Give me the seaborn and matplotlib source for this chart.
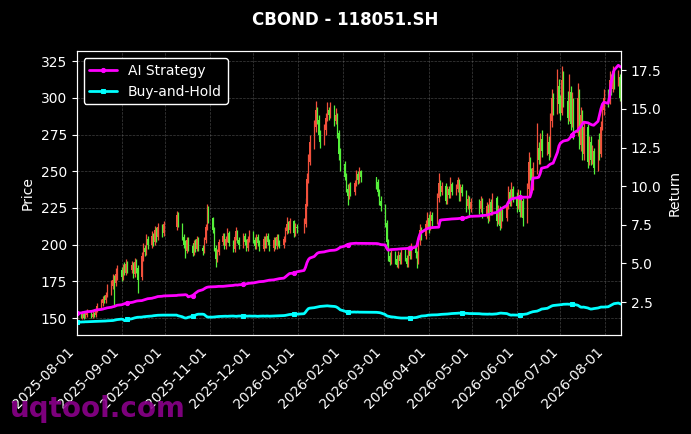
import pandas as pd
import numpy as np
import matplotlib
matplotlib.use('Agg')
import matplotlib.pyplot as plt
import matplotlib.dates as mdates
import seaborn as sns

# exchange holidays inside the window (no trading)
holidays = ['2025-10-01', '2025-10-02', '2025-10-03', '2025-10-06', '2025-10-07', '2025-10-08',
            '2026-01-01', '2026-01-02',
            '2026-02-16', '2026-02-17', '2026-02-18', '2026-02-19', '2026-02-20', '2026-02-23',
            '2026-04-06', '2026-05-01', '2026-05-04', '2026-05-05', '2026-06-19']

opens = [
    150,153,151,153,151,152,154,151,153,152,155,158,160,164,162,166,170,172,177,174,180,  # 2025-08
    183,178,185,181,187,183,186,180,188,184,178,192,198,195,204,200,206,202,210,205,212,208,  # 09
    212,221,214,205,200,196,203,199,194,201,197,204,198,196,203,212,224,  # 10
    218,210,198,190,195,202,206,199,204,208,201,197,205,209,203,200,206,202,198,204,  # 11
    207,203,199,205,201,197,204,200,206,202,198,203,199,205,201,200,204,209,214,210,216,208,212,  # 12
    211,214,228,245,256,268,280,292,285,275,270,278,286,292,288,294,284,288,276,262,  # 2026-01
    255,246,238,233,240,236,242,248,244,250,246,243,236,230,  # 02
    226,215,202,192,188,194,190,186,193,189,195,191,187,196,192,198,194,189,203,210,206,214,  # 03
    218,212,220,216,232,242,236,240,230,238,234,241,236,238,244,232,239,235,226,231,224,  # 04
    229,224,230,220,226,218,229,222,232,216,224,213,221,218,226,236,228,238,  # 05
    232,226,234,222,230,218,238,256,248,240,252,266,258,272,264,270,262,284,300,292,308,  # 06
    296,290,312,298,286,304,282,296,276,300,268,288,262,280,256,270,258,264,252,268,262,280,292,  # 07
    300,298,312,306,318,310,314,300,  # 08
]
highs = [
    154,154,155,154,154,156,155,155,154,157,160,163,165,166,168,173,176,180,179,184,186,
    185,187,188,190,189,189,188,191,190,186,195,201,200,207,206,209,208,213,212,215,214,216,
    223,222,215,207,203,205,205,201,203,204,206,205,200,205,214,228,226,
    219,212,200,197,204,208,208,206,211,209,203,207,212,210,205,208,208,204,206,210,
    209,205,207,207,203,206,206,208,208,204,205,205,207,207,203,206,212,219,216,218,217,215,214,
    218,232,249,262,275,285,298,294,288,278,282,290,297,294,297,295,293,290,278,266,
    257,249,241,242,243,244,251,250,253,251,246,245,238,233,
    228,217,204,195,197,196,193,196,195,198,197,193,199,198,201,200,196,206,214,212,217,222,
    221,223,222,235,249,244,243,242,240,240,246,243,241,246,245,241,241,237,234,233,232,
    231,233,232,229,228,232,231,235,233,227,226,224,224,229,240,238,243,240,
    236,238,237,233,232,242,263,260,252,256,283,270,276,278,276,274,290,306,303,320,313,
    302,322,318,305,316,308,304,300,310,306,294,292,284,282,274,274,268,266,272,276,284,296,306,
    306,318,316,322,320,319,316,310,
]
lows = [
    149,150,149,149,150,151,150,150,151,151,154,156,158,160,160,164,166,170,159,172,176,
    175,176,179,179,181,181,177,178,181,167,176,189,192,193,197,198,199,200,202,203,205,206,
    210,212,203,198,191,194,196,192,193,195,196,196,193,194,201,210,215,
    208,196,185,188,193,200,197,197,202,199,195,195,203,201,197,198,200,196,196,202,
    201,197,197,199,196,196,198,198,200,196,196,197,197,199,198,198,202,207,208,208,205,206,208,
    208,212,226,242,254,265,277,282,272,266,268,275,284,285,286,281,282,273,258,250,
    244,236,227,231,233,234,240,241,242,243,238,233,227,223,
    212,199,189,186,187,187,185,184,187,187,189,185,185,190,190,191,184,187,200,203,204,211,
    208,210,213,214,229,233,234,228,228,232,232,234,234,236,230,230,233,222,224,220,222,
    221,222,218,218,215,216,220,220,213,214,210,211,216,216,224,226,226,229,
    222,224,219,219,213,215,234,244,236,237,248,255,255,260,261,258,260,280,288,289,290,
    285,288,294,282,284,278,280,272,274,265,264,258,258,252,254,254,255,248,250,258,260,278,288,
    294,296,302,304,306,308,298,296,
]
closes = [
    152,151,153,150,152,154,151,153,152,155,158,160,163,162,166,170,172,176,174,180,183,
    178,184,181,187,183,186,180,188,184,176,192,198,195,204,200,206,202,210,205,212,208,214,
    220,214,205,200,196,203,199,194,201,197,204,198,196,203,212,224,218,
    210,198,190,195,202,206,199,204,208,201,197,205,209,203,200,206,202,198,204,207,
    203,199,205,201,197,204,200,206,202,198,203,199,205,201,200,204,209,214,210,216,208,212,211,
    214,228,245,258,270,280,292,285,275,270,278,286,292,288,294,284,288,276,262,255,
    246,238,233,240,236,242,248,244,250,246,243,236,230,226,
    215,202,192,188,194,190,186,193,189,195,191,187,196,192,198,194,189,203,210,206,214,218,
    212,220,216,232,242,236,240,230,238,234,241,236,238,244,232,239,235,226,231,224,229,
    224,230,220,226,218,229,222,232,216,224,213,221,218,226,236,228,238,232,
    226,234,222,230,218,238,256,248,240,252,266,258,272,264,270,262,284,300,292,308,296,
    290,312,298,286,304,282,296,276,300,268,288,262,280,256,270,258,264,252,268,262,280,292,300,
    298,312,306,318,310,314,300,304,
]

ai_strategy = [
    1.79,1.80,1.82,1.84,1.86,1.88,1.90,1.92,1.95,1.98,2.00,2.03,2.05,2.08,2.10,2.13,2.17,2.20,2.22,2.26,2.30,
    2.33,2.36,2.40,2.42,2.45,2.48,2.50,2.53,2.56,2.58,2.60,2.63,2.66,2.69,2.72,2.75,2.78,2.80,2.83,2.86,2.88,2.90,
    2.93,2.95,2.96,2.97,2.98,2.96,2.84,2.92,3.00,3.08,3.15,3.22,3.30,3.36,3.42,3.46,3.48,
    3.49,3.50,3.50,3.51,3.52,3.52,3.53,3.54,3.55,3.56,3.58,3.60,3.61,3.60,3.62,3.64,3.66,3.68,3.70,3.72,
    3.74,3.76,3.78,3.80,3.82,3.84,3.86,3.88,3.90,3.92,3.94,3.96,3.98,4.00,4.02,4.05,4.12,4.20,4.28,4.35,4.38,4.42,4.46,
    4.55,4.75,5.05,5.25,5.35,5.45,5.55,5.65,5.70,5.72,5.75,5.78,5.80,5.82,5.84,5.86,5.88,5.92,5.98,6.05,
    6.12,6.18,6.22,6.25,6.28,6.30,6.31,6.30,6.30,6.30,6.29,6.28,6.25,6.22,
    6.20,6.00,5.86,5.88,5.90,5.91,5.92,5.93,5.94,5.95,5.96,5.97,5.98,5.99,6.00,6.05,6.18,6.60,6.90,7.02,7.20,7.25,
    7.28,7.30,7.32,7.34,7.35,7.80,7.82,7.84,7.85,7.86,7.87,7.88,7.89,7.90,7.91,7.92,7.93,7.96,8.00,8.03,8.05,
    8.07,8.09,8.10,8.12,8.15,8.18,8.20,8.25,8.30,8.38,8.45,8.52,8.58,8.75,8.95,9.09,9.15,9.20,
    9.25,9.28,9.29,9.29,9.29,9.29,9.29,9.30,9.60,10.52,10.55,10.58,10.80,11.16,11.25,11.35,11.42,11.46,11.49,12.20,12.60,
    12.78,12.85,12.92,12.98,13.05,13.17,13.30,13.45,13.60,13.75,13.85,14.00,14.14,14.10,14.05,14.00,13.96,13.94,14.20,14.60,15.00,15.30,15.43,
    15.36,15.80,16.66,17.10,17.50,17.82,17.75,17.69,
]
buy_and_hold = [
    1.21,1.21,1.22,1.22,1.23,1.23,1.24,1.24,1.25,1.25,1.26,1.26,1.27,1.27,1.28,1.29,1.30,1.31,1.33,1.35,1.37,
    1.40,1.38,1.30,1.33,1.38,1.42,1.45,1.48,1.50,1.52,1.53,1.55,1.56,1.57,1.58,1.60,1.62,1.63,1.64,1.65,1.66,1.66,
    1.66,1.62,1.55,1.50,1.47,1.48,1.52,1.58,1.62,1.66,1.70,1.72,1.72,1.70,1.62,1.55,1.53,
    1.53,1.54,1.55,1.56,1.57,1.58,1.59,1.59,1.58,1.59,1.60,1.59,1.58,1.59,1.60,1.59,1.59,1.60,1.59,1.60,
    1.59,1.60,1.59,1.58,1.59,1.60,1.59,1.60,1.60,1.59,1.60,1.61,1.60,1.61,1.62,1.63,1.64,1.66,1.68,1.70,1.71,1.72,1.72,
    1.75,1.85,1.98,2.08,2.11,2.14,2.16,2.18,2.20,2.22,2.24,2.25,2.26,2.25,2.24,2.22,2.20,2.15,2.08,2.00,
    1.92,1.87,1.85,1.85,1.85,1.86,1.85,1.86,1.85,1.85,1.84,1.83,1.82,1.80,
    1.70,1.62,1.59,1.57,1.55,1.52,1.50,1.49,1.48,1.47,1.47,1.47,1.48,1.47,1.48,1.50,1.52,1.55,1.57,1.60,1.62,1.64,
    1.66,1.66,1.67,1.68,1.69,1.70,1.71,1.72,1.73,1.74,1.75,1.76,1.77,1.78,1.79,1.78,1.79,1.78,1.77,1.76,1.76,
    1.75,1.74,1.73,1.72,1.72,1.73,1.72,1.72,1.74,1.76,1.78,1.79,1.78,1.76,1.72,1.68,1.66,1.67,
    1.66,1.67,1.66,1.68,1.70,1.74,1.78,1.82,1.85,1.88,1.92,1.96,2.00,2.05,2.10,2.15,2.20,2.25,2.28,2.31,2.32,
    2.33,2.34,2.36,2.37,2.36,2.37,2.37,2.36,2.30,2.24,2.18,2.17,2.18,2.12,2.08,2.05,2.06,2.08,2.12,2.15,2.18,2.18,2.18,
    2.20,2.25,2.30,2.35,2.40,2.44,2.40,2.37,
]

days = pd.bdate_range('2025-08-01', '2026-08-12')
days = days[~days.isin(pd.to_datetime(holidays))]
n = min(len(days), len(closes), len(opens), len(highs), len(lows), len(ai_strategy), len(buy_and_hold))

df = pd.DataFrame({
    'date': days[:n],
    'open': opens[:n], 'high': highs[:n], 'low': lows[:n], 'close': closes[:n],
    'ai': ai_strategy[:n], 'bh': buy_and_hold[:n],
})

plt.style.use('dark_background')
sns.set_style('dark', {'axes.facecolor': 'black', 'figure.facecolor': 'black'})
plt.rcParams['font.family'] = ['DejaVu Sans']

fig, ax = plt.subplots(figsize=(6.91, 4.34), dpi=100)
fig.patch.set_facecolor('black')
ax.set_facecolor('black')

up_col = '#f2503c'
down_col = '#55f03a'
cols = np.where(df['close'] >= df['open'], up_col, down_col)

# candles: wick + body
ax.vlines(df['date'], df['low'], df['high'], colors=cols, linewidth=0.9)
body_lo = df[['open', 'close']].min(axis=1)
body_h = (df['close'] - df['open']).abs().clip(lower=0.5)
ax.bar(df['date'], body_h, bottom=body_lo, width=0.7, color=cols, linewidth=0)

ax.set_ylim(138.4, 331.8)
ax.set_ylabel('Price', color='white')
ax.grid(True, linestyle='--', linewidth=0.5, color='gray', alpha=0.5)

ax2 = ax.twinx()
sns.lineplot(data=df, x='date', y='ai', ax=ax2, color='#ff00ff', linewidth=2,
             marker='o', markersize=3, markevery=25, markeredgecolor='#ff00ff', label='AI Strategy')
sns.lineplot(data=df, x='date', y='bh', ax=ax2, color='#00ffff', linewidth=2,
             marker='s', markersize=3, markevery=25, markeredgecolor='#00ffff', label='Buy-and-Hold')
ax2.set_ylim(0.37, 18.73)
ax2.set_ylabel('Return', color='white')
ax2.set_xlabel('')
ax2.grid(False)

leg = ax2.legend(loc='upper left', facecolor='black', edgecolor='white', framealpha=1, fontsize=10)
for t in leg.get_texts():
    t.set_color('white')

ax.set_xlim(df['date'].iloc[0], df['date'].iloc[-1])
ax.xaxis.set_major_locator(mdates.MonthLocator())
ax.xaxis.set_major_formatter(mdates.DateFormatter('%Y-%m-%d'))
plt.setp(ax.get_xticklabels(), rotation=45, ha='right')
ax.set_xlabel('')

for a in (ax, ax2):
    for s in a.spines.values():
        s.set_color('white')
    a.tick_params(colors='white', labelsize=10)

fig.suptitle('CBOND - 118051.SH', color='white', fontsize=12, fontweight='bold', y=0.975)
fig.text(0.015, 0.025, 'uqtool.com', color='#8b008b', fontsize=20, fontweight='bold',
         alpha=0.9, ha='left', va='bottom', zorder=10)

fig.subplots_adjust(left=0.111, right=0.899, bottom=0.228, top=0.882)
fig.savefig('out.png', dpi=100, facecolor='black')
